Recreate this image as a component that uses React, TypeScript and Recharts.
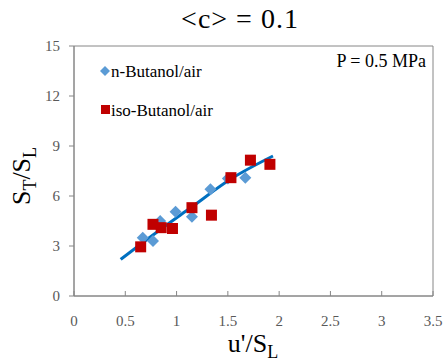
import {ComposedChart, Customized, Line, ReferenceArea, Scatter, XAxis, YAxis} from "recharts";

// u'/SL vs ST/SL
const nButanolX = [0.67, 0.77, 0.84, 0.99, 1.15, 1.33, 1.5, 1.67];
const nButanolY = [3.5, 3.3, 4.5, 5.05, 4.75, 6.4, 7.05, 7.1];
const isoButanolX = [0.65, 0.77, 0.85, 0.96, 1.15, 1.34, 1.53, 1.72, 1.91];
const isoButanolY = [2.95, 4.3, 4.1, 4.05, 5.3, 4.85, 7.1, 8.15, 7.9];
const fitX = [0.455, 0.8, 1.13, 1.54, 1.94];
const fitY = [2.2, 3.8, 5.26, 7.06, 8.4];
const xTicks = [0, 0.5, 1, 1.5, 2, 2.5, 3, 3.5];
const yTicks = [0, 3, 6, 9, 12, 15];

const nData = nButanolX.map((x, i) => ({x: x, y: nButanolY[i]}));
const isoData = isoButanolX.map((x, i) => ({x: x, y: isoButanolY[i]}));
const fitData = fitX.map((x, i) => ({x: x, y: fitY[i]}));

const FONT = "Liberation Serif";
const AXIS = "#868686";
const TICK = "#595959";
const BLUE = "#5B9BD5";
const RED = "#C00000";

const Diamond = (props: any) => {
    const {cx, cy} = props;
    if (cx == null || cy == null) return null;
    const r = 6;
    return <path d={`M${cx},${cy - r}L${cx + r},${cy}L${cx},${cy + r}L${cx - r},${cy}Z`} fill={BLUE}/>;
};

const Square = (props: any) => {
    const {cx, cy} = props;
    if (cx == null || cy == null) return null;
    return <rect x={cx - 5.5} y={cy - 5.5} width={11} height={11} fill={RED}/>;
};

const Texts = () => (
    <g fontFamily={FONT} fill="#000">
        <text x={240} y={28} fontSize={28} letterSpacing={1} textAnchor="middle">{"<c> = 0.1"}</text>
        <text x={426} y={67} fontSize={18} textAnchor="end">P = 0.5 MPa</text>
        <path d="M105,66L110,71L105,76L100,71Z" fill={BLUE}/>
        <text x={111} y={77} fontSize={17}>n-Butanol/air</text>
        <rect x={101} y={105} width={9} height={9} fill={RED}/>
        <text x={111} y={116} fontSize={17}>iso-Butanol/air</text>
        <text x={253} y={352} fontSize={26} textAnchor="middle">
            u'/S<tspan fontSize={18} dy={6}>L</tspan>
        </text>
        <text transform="translate(30,176) rotate(-90)" fontSize={26} textAnchor="middle">
            S<tspan fontSize={18} dy={6}>T</tspan><tspan fontSize={26} dy={-6}>/S</tspan><tspan fontSize={18} dy={6}>L</tspan>
        </text>
    </g>
);

const tickStyle = {fill: TICK, fontSize: 15, fontFamily: FONT};

export default function App() {
    return (
        <div style={{position: 'absolute', left: 0, top: 0}}>
            <ComposedChart
                width={443}
                height={361}
                margin={{top: 46, right: 10, bottom: 0, left: 0}}
            >
                <XAxis
                    type="number"
                    dataKey="x"
                    domain={[0, 3.5]}
                    ticks={xTicks}
                    height={65}
                    stroke={AXIS}
                    tickSize={-5}
                    tickMargin={24}
                    tick={tickStyle}
                    allowDataOverflow
                />
                <YAxis
                    type="number"
                    dataKey="y"
                    domain={[0, 15]}
                    ticks={yTicks}
                    width={74}
                    stroke={AXIS}
                    tickSize={5}
                    tickMargin={9}
                    tick={tickStyle}
                    allowDataOverflow
                />
                <ReferenceArea x1={0} x2={3.5} y1={0} y2={15} fill="none" stroke={AXIS} strokeWidth={1}/>
                <Scatter data={nData} dataKey="y" shape={<Diamond/>} isAnimationActive={false}/>
                <Scatter data={isoData} dataKey="y" shape={<Square/>} isAnimationActive={false}/>
                <Line data={fitData} dataKey="y" type="monotone" stroke="#0070C0" strokeWidth={3}
                      dot={false} activeDot={false} isAnimationActive={false}/>
                <Customized component={Texts}/>
            </ComposedChart>
        </div>
    );
}
